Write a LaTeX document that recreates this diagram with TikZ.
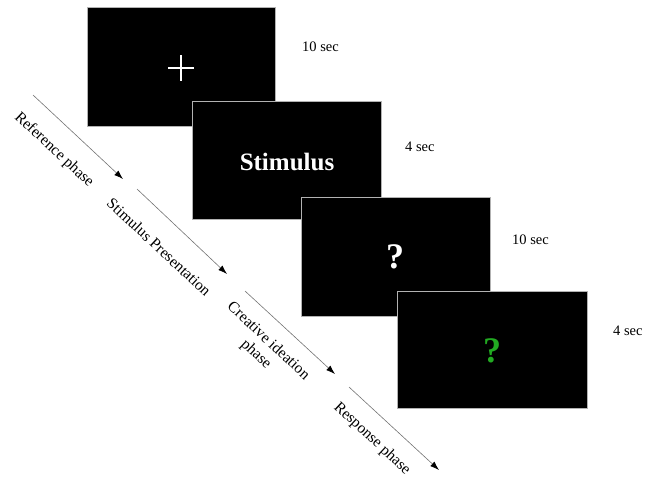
\documentclass[tikz,border=0pt]{standalone}
\usepackage{fontspec}
\setmainfont{Liberation Serif}
\usetikzlibrary{arrows.meta}
\definecolor{qgreen}{RGB}{34,170,34}
\begin{document}
\begin{tikzpicture}[x=1pt,y=-1pt,
  screen/.style={fill=black,draw=black!30,line width=0.6pt},
  dur/.style={font=\fontsize{14.5}{16}\selectfont,anchor=west,inner sep=0pt},
  phase/.style={font=\fontsize{15.5}{18}\selectfont,rotate=-43,align=center,inner sep=0pt},
  flow/.style={draw=black!55,line width=0.6pt,-{Latex[length=9pt,width=6pt,color=black]}},
  qmark/.style={text=white,font=\bfseries\fontsize{36}{38}\selectfont,inner sep=0pt}]
\useasboundingbox (0,0) rectangle (653,477);
% screens
\path[screen] (87,7) rectangle (275,126);
\draw[white,line width=2.6pt] (168,68) -- (194,68) (181,55) -- (181,81);
\path[screen] (192,101) rectangle (381,219);
\node[text=white,font=\bfseries\fontsize{25}{27}\selectfont] (stim) at (287,162) {Stimulus};
\path[screen] (301,197) rectangle (490,316);
\node[qmark] (q1) at (395,257) {?};
\path[screen] (397,291) rectangle (587,408);
\node[qmark,text=qgreen] (q2) at (492,351) {?};
% durations
\node[dur] (d1) at (302,47) {10 sec};
\node[dur] (d2) at (405,147) {4 sec};
\node[dur] (d3) at (512,240) {10 sec};
\node[dur] (d4) at (613,331) {4 sec};
% arrows
\coordinate (a1s) at (33,95);  \coordinate (a1e) at (123,179);
\coordinate (a2s) at (137,189); \coordinate (a2e) at (227,274);
\coordinate (a3s) at (245,291); \coordinate (a3e) at (335,374);
\coordinate (a4s) at (349,387); \coordinate (a4e) at (439,470);
\draw[flow] (a1s) -- (a1e);
\draw[flow] (a2s) -- (a2e);
\draw[flow] (a3s) -- (a3e);
\draw[flow] (a4s) -- (a4e);
% phase labels
\node[phase] (p1) at (54,150) {Reference phase};
\node[phase] (p2) at (159,247) {Stimulus Presentation};
\node[phase] (p3) at (262,348) {Creative ideation\\phase};
\node[phase] (p4) at (372,439) {Response phase};
\end{tikzpicture}
\end{document}
